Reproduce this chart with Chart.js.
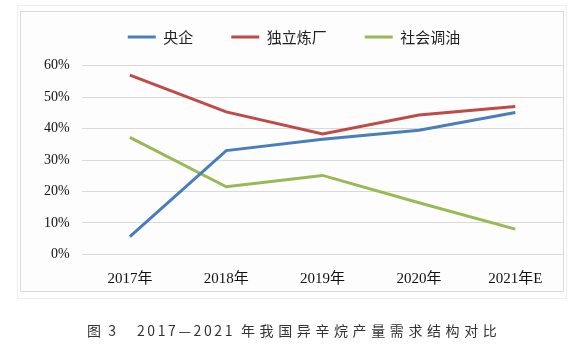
<!DOCTYPE html>
<html>
<head>
  <meta charset="UTF-8">
  <title>异辛烷产量需求结构对比</title>
  <style>
    body {
      margin: 0;
      background: #ffffff;
    }
    .page {
      position: relative;
      width: 581px;
      height: 354px;
      overflow: hidden;
    }
    .frame-outer {
      position: absolute;
      left: 17px;
      top: 5px;
      width: 548px;
      height: 292px;
      border: 1px solid #eeeeee;
    }
    .frame {
      position: absolute;
      left: 20px;
      top: 11px;
      width: 542px;
      height: 279px;
      border: 1px solid #d9d9d9;
      background: #fdfdfd;
    }
    .chart-box {
      position: absolute;
      left: 0;
      top: 0;
      width: 581px;
      height: 354px;
    }
    .caption span {
      position: absolute;
      top: 321px;
      font-family: "Noto Sans CJK SC", sans-serif;
      font-size: 14px;
      line-height: 18px;
      color: #333333;
      white-space: nowrap;
    }
  </style>
  <script src="https://cdn.jsdelivr.net/npm/chart.js"></script>
</head>
<body>
  <div class="page">
    <div class="frame-outer"></div>
    <div class="frame"></div>
    <div class="chart-box">
      <canvas id="structChart"></canvas>
    </div>
    <div class="caption">
      <span style="left:87px; letter-spacing:2px;">图 3</span>
      <span style="left:137px; letter-spacing:2.6px;">2017—2021</span>
      <span style="left:241px; letter-spacing:4.6px;">年我国异辛烷产量需求结构对比</span>
    </div>
  </div>

  <script>
    // 数据（从图中读取，单位 %）
    const years = ['2017年', '2018年', '2019年', '2020年', '2021年E'];
    const yangqi = [5.6, 33.0, 36.6, 39.5, 45.1];        // 央企
    const duliLianchang = [57.0, 45.3, 38.3, 44.3, 47.0]; // 独立炼厂
    const shehuiTiaoyou = [37.2, 21.5, 25.1, 16.4, 8.0];  // 社会调油
    const yTicks = [0, 10, 20, 30, 40, 50, 60];

    // 图例和绘图区之间留出空白
    const legendGap = {
      id: 'legendGap',
      beforeInit(chart) {
        const fit = chart.legend.fit;
        chart.legend.fit = function () {
          fit.call(this);
          this.height = 74.2;
        };
      }
    };

    const ctx = document.getElementById('structChart').getContext('2d');
    new Chart(ctx, {
      type: 'line',
      data: {
        labels: years,
        datasets: [
          {
            label: '央企',
            data: yangqi,
            borderColor: '#4a7ebb',
            backgroundColor: '#4a7ebb',
            borderWidth: 3,
            pointRadius: 0,
            tension: 0,
            fill: false
          },
          {
            label: '独立炼厂',
            data: duliLianchang,
            borderColor: '#be4b48',
            backgroundColor: '#be4b48',
            borderWidth: 3,
            pointRadius: 0,
            tension: 0,
            fill: false
          },
          {
            label: '社会调油',
            data: shehuiTiaoyou,
            borderColor: '#98b954',
            backgroundColor: '#98b954',
            borderWidth: 3,
            pointRadius: 0,
            tension: 0,
            fill: false
          }
        ]
      },
      options: {
        responsive: true,
        maintainAspectRatio: false,
        animation: false,
        layout: {
          padding: { left: 24.5, right: 17.5, top: -8.5, bottom: 59.7 }
        },
        plugins: {
          legend: {
            position: 'top',
            labels: {
              usePointStyle: true,
              pointStyle: 'line',
              pointStyleWidth: 28,
              padding: 38,
              color: '#222222',
              font: { family: '"Noto Sans CJK SC", sans-serif', size: 15 }
            }
          },
          tooltip: { enabled: false }
        },
        scales: {
          x: {
            offset: true,
            grid: { display: false },
            border: { display: false },
            ticks: {
              padding: 8,
              color: '#111111',
              font: { family: '"Liberation Serif", "Noto Sans CJK SC", serif', size: 15 }
            },
            afterFit(scale) {
              scale.height = 40;
            }
          },
          y: {
            min: 0,
            max: 60,
            afterBuildTicks(scale) {
              scale.ticks = yTicks.map(v => ({ value: v }));
            },
            grid: { color: '#d9d9d9', lineWidth: 1, drawTicks: false },
            border: { display: false },
            ticks: {
              padding: 12,
              color: '#111111',
              font: { family: '"Liberation Serif", serif', size: 14 },
              callback: v => v + '%'
            },
            afterFit(scale) {
              scale.width = 57.2;
            }
          }
        }
      },
      plugins: [legendGap]
    });
  </script>
</body>
</html>
